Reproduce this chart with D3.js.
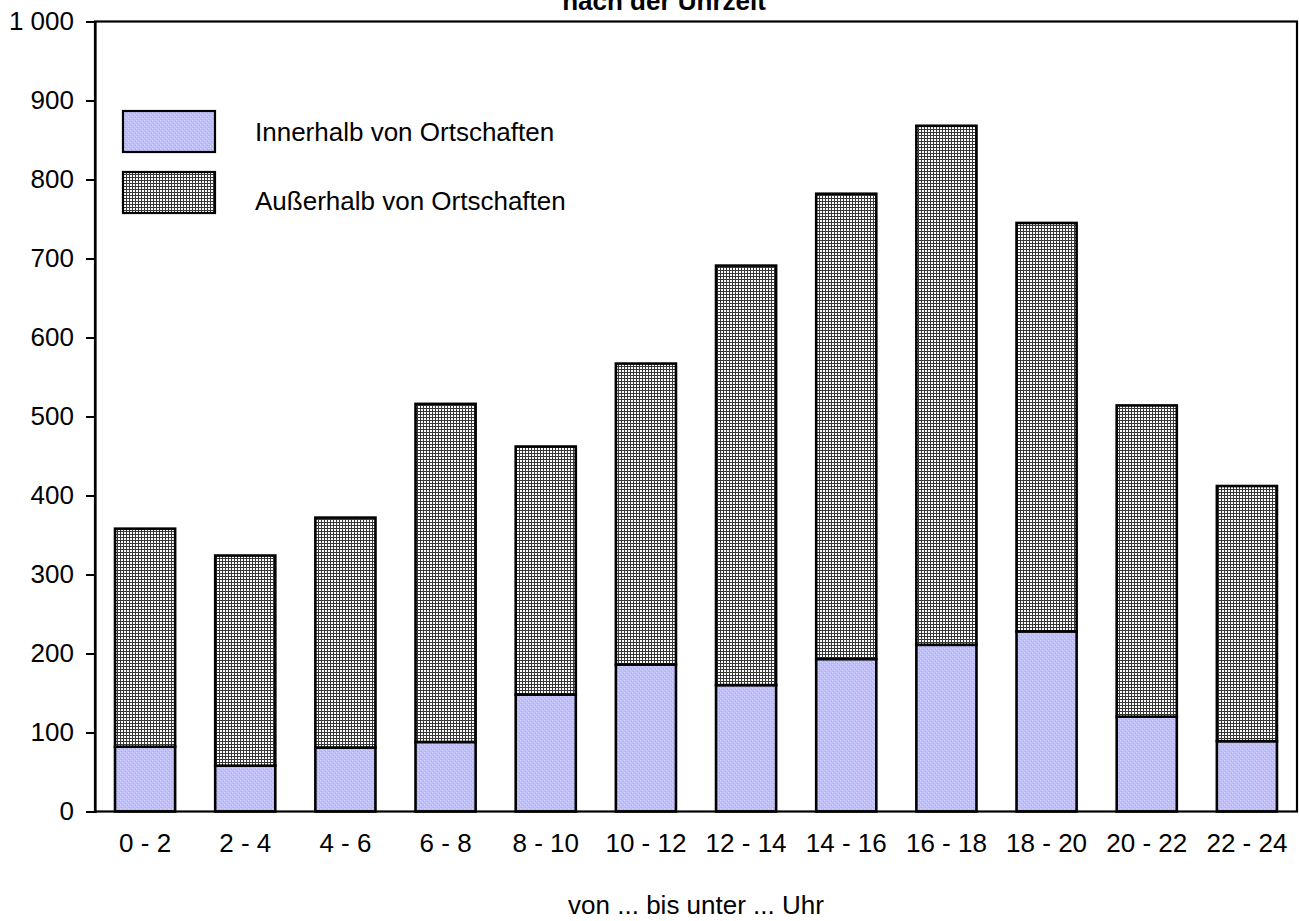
<!DOCTYPE html>
<html><head><meta charset="utf-8">
<script src="https://cdn.jsdelivr.net/npm/d3@7"></script>
<style>html,body{margin:0;padding:0;background:#fff;overflow:hidden}</style>
</head><body>
<script>
const categories = ["0 - 2","2 - 4","4 - 6","6 - 8","8 - 10","10 - 12","12 - 14","14 - 16","16 - 18","18 - 20","20 - 22","22 - 24"];
const innerhalb = [82, 58, 81, 88, 148, 186, 160, 193, 211, 228, 120, 89];
const ausserhalb = [276, 266, 291, 428, 314, 381, 531, 589, 657, 517, 394, 323];
const yTicks = [0,100,200,300,400,500,600,700,800,900,1000];
const seriesNames = ["Innerhalb von Ortschaften", "Außerhalb von Ortschaften"];
const titleText = "nach der Uhrzeit";
const xTitle = "von ... bis unter ... Uhr";

const W = 1299, H = 921;
const L = 95, R = 1297, T = 21.5, B = 811.5;
const font = "Liberation Sans, Arial, sans-serif";

const svg = d3.select("body").append("svg").attr("width", W).attr("height", H);
const defs = svg.append("defs");
// blue textured pattern
const pb = defs.append("pattern").attr("id","pBlue").attr("patternUnits","userSpaceOnUse").attr("width",4).attr("height",4);
pb.append("rect").attr("width",4).attr("height",4).attr("fill","#bebeff");
pb.append("rect").attr("x",0).attr("y",0).attr("width",1).attr("height",1).attr("fill","#d6d6ff");
pb.append("rect").attr("x",2).attr("y",2).attr("width",1).attr("height",1).attr("fill","#d6d6ff");
pb.append("rect").attr("x",1).attr("y",3).attr("width",1).attr("height",1).attr("fill","#acacf0");
pb.append("rect").attr("x",3).attr("y",1).attr("width",1).attr("height",1).attr("fill","#acacf0");
// grey grid pattern
const pg = defs.append("pattern").attr("id","pGrey").attr("patternUnits","userSpaceOnUse").attr("width",3).attr("height",3);
pg.append("rect").attr("width",3).attr("height",3).attr("fill","#ffffff");
pg.append("rect").attr("width",3).attr("height",1).attr("fill","#383838");
pg.append("rect").attr("width",1).attr("height",3).attr("fill","#383838");

const x = d3.scaleBand().domain(categories).range([L, R]).paddingInner(0.4).paddingOuter(0.2);
const y = d3.scaleLinear().domain([0, 1000]).range([B, T]);

const data = categories.map((c,i)=>({cat:c, inn:innerhalb[i], aus:ausserhalb[i]}));
const stack = d3.stack().keys(["inn","aus"])(data);
const fills = ["url(#pBlue)","url(#pGrey)"];

stack.forEach((s,k)=>{
  svg.append("g").selectAll("rect").data(s).join("rect")
    .attr("x", d=>x(d.data.cat))
    .attr("width", x.bandwidth())
    .attr("y", d=>y(d[1]))
    .attr("height", d=>y(d[0])-y(d[1]))
    .attr("fill", fills[k])
    .attr("stroke","#000").attr("stroke-width",2.6);
});

// frame
svg.append("rect").attr("x",L).attr("y",T).attr("width",R-L).attr("height",B-T)
  .attr("fill","none").attr("stroke","#000").attr("stroke-width",2.2);

// y axis
const yAxis = d3.axisLeft(y).tickValues(yTicks).tickSize(9).tickPadding(12)
  .tickFormat(d=>d3.format(",")(d).replace(/,/g," "));
const gy = svg.append("g").attr("transform",`translate(${L},0)`).call(yAxis);
gy.select(".domain").attr("stroke","#000").attr("stroke-width",2.2);
gy.selectAll(".tick line").attr("stroke","#000").attr("stroke-width",2);
gy.selectAll("text").attr("font-family",font).attr("font-size",26).attr("fill","#000");

// x axis labels
const xAxis = d3.axisBottom(x).tickSize(0).tickPadding(22);
const gx = svg.append("g").attr("transform",`translate(0,${B})`).call(xAxis);
gx.select(".domain").remove();
gx.selectAll("text").attr("font-family",font).attr("font-size",26).attr("fill","#000");

// x title
svg.append("text").attr("x",(L+R)/2).attr("y",914).attr("text-anchor","middle")
  .attr("font-family",font).attr("font-size",26).text(xTitle);
// title (cut off at top, as in the reference)
svg.append("text").attr("x",664).attr("y",10).attr("text-anchor","middle")
  .attr("font-family",font).attr("font-size",26).attr("font-weight","bold").text(titleText);

// legend
const lg = svg.append("g");
seriesNames.forEach((n,i)=>{
  const yy = 111 + i*61;
  lg.append("rect").attr("x",123).attr("y",yy).attr("width",92).attr("height",41)
    .attr("fill",fills[i]).attr("stroke","#000").attr("stroke-width",2.2);
  lg.append("text").attr("x",255).attr("y",yy+30+i*8).attr("font-family",font).attr("font-size",26).text(n);
});
</script>
</body></html>
